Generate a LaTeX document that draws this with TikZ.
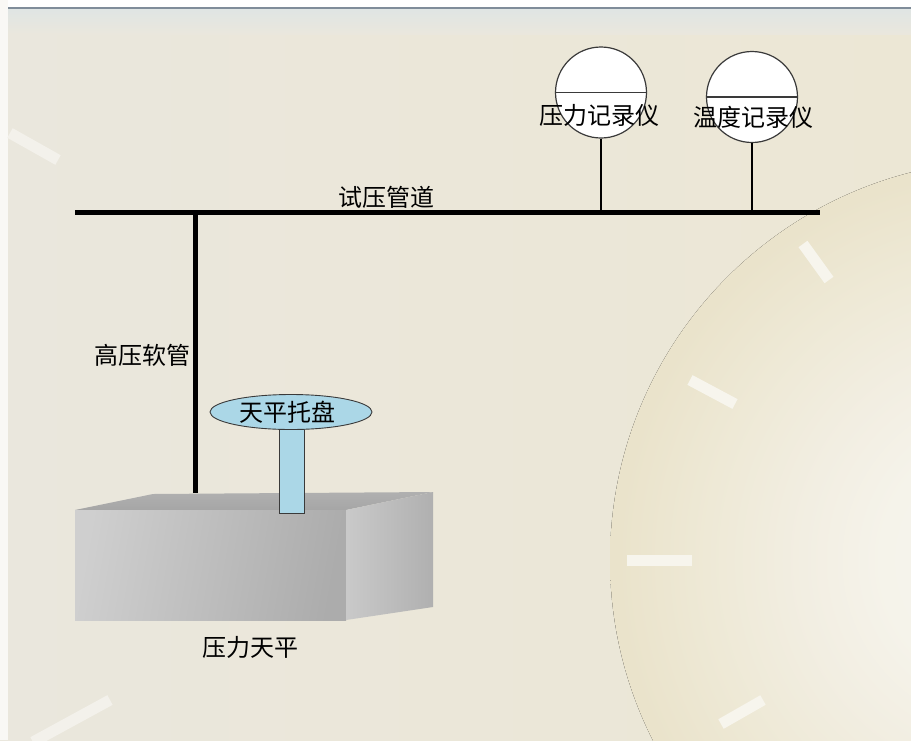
\documentclass[tikz,border=0pt]{standalone}
\usepackage{fontspec}
\newfontfamily\cjk{Noto Sans CJK SC}
\usetikzlibrary{shapes.geometric}

\definecolor{bgLeft}{HTML}{EAE7DD}
\definecolor{bgRight}{HTML}{ECE7D5}
\definecolor{bandTop}{HTML}{DFE5E4}
\definecolor{rule}{HTML}{7F8C99}
\definecolor{trayBlue}{HTML}{ABD7E7}
\definecolor{edgeGray}{HTML}{3A3A3A}
\definecolor{dA}{HTML}{F7F5EF}
\definecolor{dB}{HTML}{F5F3EA}
\definecolor{dC}{HTML}{F2EEE2}
\definecolor{dD}{HTML}{EEE9D6}
\definecolor{dE}{HTML}{EAE3CB}

% large dial face in the backdrop
\pgfdeclareradialshading{dialface}{\pgfpoint{0bp}{0bp}}{%
  color(0bp)=(dA); color(8bp)=(dB); color(13bp)=(dC);
  color(19bp)=(dD); color(24.5bp)=(dE); color(25bp)=(dE); color(50bp)=(dE)}

\tikzset{
  lbl/.style={font=\cjk\fontsize{24}{28}\selectfont, text=black, inner sep=0pt},
  pipe/.style={line width=5pt, black},
  hose/.style={line width=4.5pt, black},
  stem/.style={line width=1.3pt, black},
  gauge/.style={circle, draw=edgeGray, line width=1.2pt, fill=white,
                minimum size=91pt, inner sep=0pt},
  tray/.style={ellipse, draw=edgeGray, line width=0.9pt, fill=trayBlue,
               minimum width=162pt, minimum height=35pt, inner sep=0pt},
  tick/.style={line width=11pt, white!55!dD},
  facetick/.style={line width=11pt, white!40!bgLeft},
}

\begin{document}
\begin{tikzpicture}[x=1pt,y=-1pt]
\useasboundingbox (0,0) rectangle (911,740);

% ---- backdrop ----
\begin{scope}
  \clip (0,0) rectangle (911,740);
  \fill[left color=bgLeft, right color=bgRight] (0,0) rectangle (911,740);
  \fill[shading=dialface] (1010,560) circle (400);
  \fill[top color=bandTop, bottom color=bgLeft] (8,8) rectangle (911,34);
  \fill[white!96!bgLeft] (0,0) rectangle (911,7);
  \fill[white!70!bgLeft] (0,0) rectangle (8,740);
  \draw[rule, line width=1.6pt] (8,7.8) -- (911,7.8);
  % hour marks
  \draw[tick] (803,244) -- (829,280);
  \draw[tick] (690,380) -- (735,404);
  \draw[tick] (627,560) -- (692,560);
  \draw[tick] (721,724) -- (763,700);
  \draw[facetick] (10,133) -- (58,160);
  \draw[facetick] (33,742) -- (110,700);
\end{scope}

% ---- pressure balance block ----
\coordinate (fl) at (75,510);
\coordinate (fr) at (346,510);
\coordinate (bl) at (153,494);
\coordinate (br) at (433,492);
\coordinate (fbl) at (75,620);
\coordinate (fbr) at (346,620);
\coordinate (bbr) at (433,607);
\shade[top color=gray!62, bottom color=gray!70] (fl) -- (bl) -- (br) -- (fr) -- cycle;
\shade[left color=gray!38, right color=gray!65, shading angle=80] (fl) -- (fr) -- (fbr) -- (fbl) -- cycle;
\shade[left color=gray!42, right color=gray!62] (fr) -- (br) -- (bbr) -- (fbr) -- cycle;

% ---- test pipeline and hose ----
\coordinate (pipeL) at (75,212.5);
\coordinate (pipeR) at (820,212.5);
\coordinate (hoseTop) at (195.5,212.5);
\coordinate (hoseBot) at (195.5,493);
\draw[hose] (hoseTop) -- (hoseBot);
\draw[pipe] (pipeL) -- (pipeR);

% ---- recorders ----
\node[gauge] (g1) at (601,92.5) {};
\node[gauge] (g2) at (752,97) {};
\draw[line width=1.2pt, edgeGray] (g1.west) -- (g1.east);
\draw[line width=1.2pt, edgeGray] (g2.west) -- (g2.east);
\draw[stem] (g1.south) -- (g1.south |- pipeL);
\draw[stem] (g2.south) -- (g2.south |- pipeL);

% ---- balance tray ----
\node[draw=edgeGray, line width=0.9pt, fill=trayBlue, minimum width=25pt,
      minimum height=84pt, inner sep=0pt] (post) at (291.5,471.5) {};
\node[tray] (tray) at (291,412) {};

% ---- labels ----
\node[lbl] (tPipe)  at (386,197) {试压管道};
\node[lbl] (tHose)  at (142,355) {高压软管};
\node[lbl] (tP)     at (599,115) {压力记录仪};
\node[lbl] (tT)     at (753,117) {温度记录仪};
\node[lbl] (tTray)  at (287,412) {天平托盘};
\node[lbl] (tBal)   at (250,647) {压力天平};
\end{tikzpicture}
\end{document}
